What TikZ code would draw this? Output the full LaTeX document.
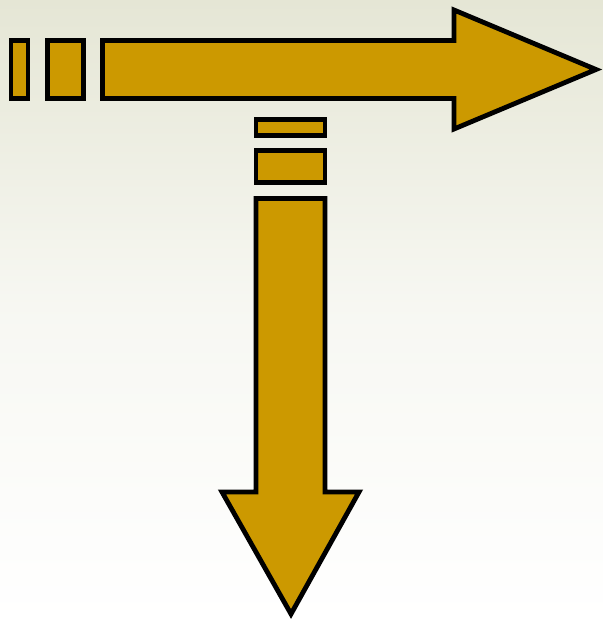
\documentclass[tikz,border=0pt]{standalone}
\usepackage{xcolor}
\definecolor{arrgold}{HTML}{CC9900}
\definecolor{bgtop}{HTML}{E5E6D5}
\usepackage{tikz}
\tikzset{
  piece/.style={draw=black, fill=arrgold, line width=3.6pt, line join=miter},
}

\begin{document}
\begin{tikzpicture}[x=0.75pt, y=-0.75pt]
  % background
  \shade[top color=bgtop, bottom color=white, middle color=white!70!bgtop]
    (0,0) rectangle (603,622);
  \useasboundingbox (0,0) rectangle (603,622);
  % horizontal arrow with its two tail blocks
  \draw[piece] (11,40.5) rectangle (28,98.5);
  \draw[piece] (47.5,40.5) rectangle (83.5,98.5);
  \draw[piece] (102.5,40.5) -- (454,40.5) -- (454,10) -- (596,69.5) -- (454,129)
    -- (454,98.5) -- (102.5,98.5) -- cycle;
  % vertical arrow with its two tail blocks
  \draw[piece] (256,119.5) rectangle (325,135.5);
  \draw[piece] (256,150.5) rectangle (325,182.5);
  \draw[piece] (256,198.5) -- (325,198.5) -- (325,492) -- (359,492) -- (291,614)
    -- (222,492) -- (256,492) -- cycle;
\end{tikzpicture}
\end{document}
